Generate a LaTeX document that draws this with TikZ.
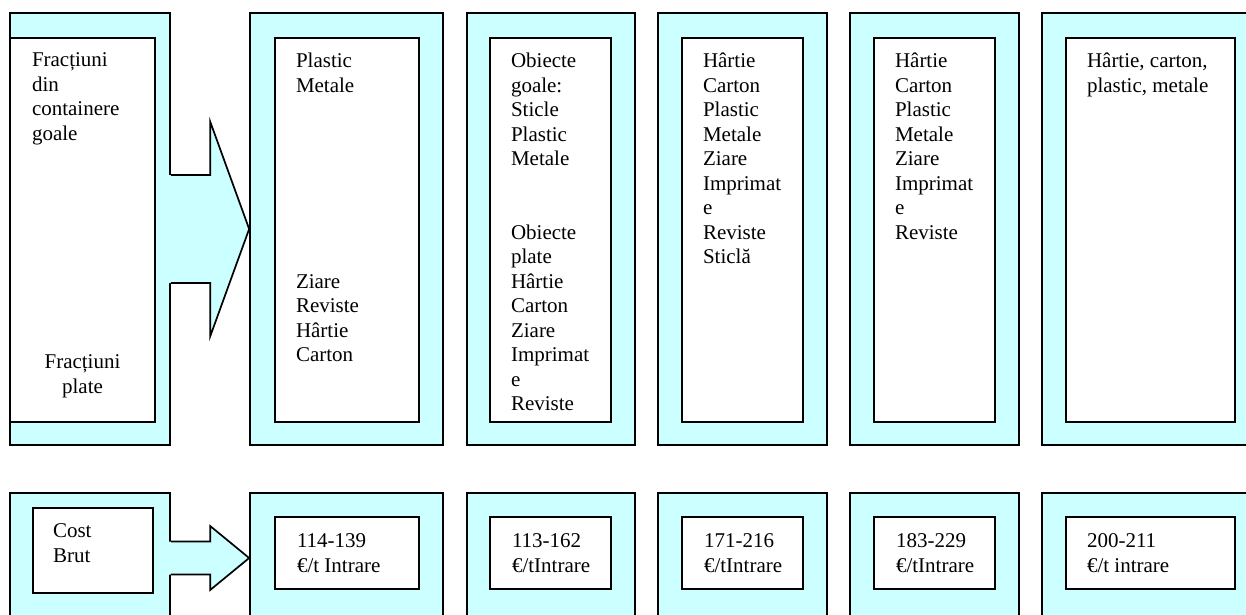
\documentclass[tikz,border=0pt]{standalone}
\usepackage{fontspec}
\setmainfont{Liberation Serif}
\usepackage{tikz}
\usetikzlibrary{positioning,calc}
\definecolor{lightcyan}{RGB}{204,255,255}

\begin{document}
\begin{tikzpicture}[x=1pt, y=-1pt, line width=1.7pt,
    outerbox/.style={draw, rectangle, fill=lightcyan, inner sep=0pt},
    innerbox/.style={draw, rectangle, fill=white, inner sep=0pt},
    boxtext/.style={inner sep=0pt, align=left, font=\fontsize{21pt}{24.5pt}\selectfont}]
    \useasboundingbox (0,0) rectangle (1246,614);
    \clip (0,0) rectangle (1246,614);

    % Upper row: outer frames
    \node[outerbox, minimum width=160pt, minimum height=432pt] (sys1) at (90,229) {};
    \node[outerbox, minimum width=193pt, minimum height=432pt] (sys2) at (346.5,229) {};
    \node[outerbox, minimum width=168pt, minimum height=432pt] (sys3) at (551,229) {};
    \node[outerbox, minimum width=169pt, minimum height=432pt] (sys4) at (742.5,229) {};
    \node[outerbox, minimum width=169pt, minimum height=432pt] (sys5) at (934.5,229) {};
    \node[outerbox, minimum width=217pt, minimum height=432pt] (sys6) at (1150.5,229) {};

    % Lower row: outer frames
    \node[outerbox, minimum width=160pt, minimum height=130pt] (cost1) at (90,558) {};
    \node[outerbox, minimum width=193pt, minimum height=130pt] (cost2) at (346.5,558) {};
    \node[outerbox, minimum width=168pt, minimum height=130pt] (cost3) at (551,558) {};
    \node[outerbox, minimum width=169pt, minimum height=130pt] (cost4) at (742.5,558) {};
    \node[outerbox, minimum width=169pt, minimum height=130pt] (cost5) at (934.5,558) {};
    \node[outerbox, minimum width=217pt, minimum height=130pt] (cost6) at (1150.5,558) {};

    % Block arrows
    \fill[lightcyan] ($(sys1.east)+(-2,-54)$) -- ($(sys2.west)+(-39,-54)$) -- ($(sys2.west)+(-39,-107.5)$) -- (sys2.west)
        -- ($(sys2.west)+(-39,107.5)$) -- ($(sys2.west)+(-39,54)$) -- ($(sys1.east)+(-2,54)$) -- cycle;
    \draw ($(sys1.east)+(0,-54)$) -- ($(sys2.west)+(-39,-54)$) -- ($(sys2.west)+(-39,-107.5)$) -- (sys2.west)
        -- ($(sys2.west)+(-39,107.5)$) -- ($(sys2.west)+(-39,54)$) -- ($(sys1.east)+(0,54)$);
    \fill[lightcyan] ($(cost1.east)+(-2,-16.5)$) -- ($(cost2.west)+(-39,-16.5)$) -- ($(cost2.west)+(-39,-32)$) -- (cost2.west)
        -- ($(cost2.west)+(-39,32)$) -- ($(cost2.west)+(-39,16.5)$) -- ($(cost1.east)+(-2,16.5)$) -- cycle;
    \draw ($(cost1.east)+(0,-16.5)$) -- ($(cost2.west)+(-39,-16.5)$) -- ($(cost2.west)+(-39,-32)$) -- (cost2.west)
        -- ($(cost2.west)+(-39,32)$) -- ($(cost2.west)+(-39,16.5)$) -- ($(cost1.east)+(0,16.5)$);

    % Upper row: inner boxes
    \node[innerbox, minimum width=145pt, minimum height=384pt] (list1) at (82.5,230) {};
    \node[innerbox, minimum width=144pt, minimum height=384pt] (list2) at (347,230) {};
    \node[innerbox, minimum width=121pt, minimum height=384pt] (list3) at (550.5,230) {};
    \node[innerbox, minimum width=121pt, minimum height=384pt] (list4) at (742.5,230) {};
    \node[innerbox, minimum width=121pt, minimum height=384pt] (list5) at (934.5,230) {};
    \node[innerbox, minimum width=169pt, minimum height=384pt] (list6) at (1150.5,230) {};

    % Lower row: inner boxes
    \node[innerbox, minimum width=120pt, minimum height=85pt] (val1) at (93,550.5) {};
    \node[innerbox, minimum width=144pt, minimum height=72pt] (val2) at (347,553) {};
    \node[innerbox, minimum width=121pt, minimum height=72pt] (val3) at (550.5,553) {};
    \node[innerbox, minimum width=121pt, minimum height=72pt] (val4) at (742.5,553) {};
    \node[innerbox, minimum width=121pt, minimum height=72pt] (val5) at (934.5,553) {};
    \node[innerbox, minimum width=169pt, minimum height=72pt] (val6) at (1150.5,553) {};

    % Texts of the upper row
    \node[boxtext, below right=15pt and 22pt of list1.north west] (frgoale) {Fracțiuni\\din\\containere\\goale};
    \node[boxtext, align=center, below=317pt of list1.north] (frplate) {Fracțiuni\\plate};
    \node[boxtext, below right=15pt and 21pt of list2.north west] (txt2) {Plastic\\Metale\\[7\baselineskip]Ziare\\Reviste\\Hârtie\\Carton};
    \node[boxtext, below right=15pt and 21pt of list3.north west] (txt3) {Obiecte\\goale:\\Sticle\\Plastic\\Metale\\[2\baselineskip]Obiecte\\plate\\Hârtie\\Carton\\Ziare\\Imprimat\\e\\Reviste};
    \node[boxtext, below right=15pt and 21pt of list4.north west] (txt4) {Hârtie\\Carton\\Plastic\\Metale\\Ziare\\Imprimat\\e\\Reviste\\Sticlă};
    \node[boxtext, below right=15pt and 21pt of list5.north west] (txt5) {Hârtie\\Carton\\Plastic\\Metale\\Ziare\\Imprimat\\e\\Reviste};
    \node[boxtext, below right=15pt and 21pt of list6.north west] (txt6) {Hârtie, carton,\\plastic, metale};

    % Texts of the lower row
    \node[boxtext, below right=16pt and 20pt of val1.north west] (brut) {Cost\\Brut};
    \node[boxtext, below right=17pt and 22pt of val2.north west] (pr2) {114-139\\€/t Intrare};
    \node[boxtext, below right=17pt and 22pt of val3.north west] (pr3) {113-162\\€/tIntrare};
    \node[boxtext, below right=17pt and 22pt of val4.north west] (pr4) {171-216\\€/tIntrare};
    \node[boxtext, below right=17pt and 22pt of val5.north west] (pr5) {183-229\\€/tIntrare};
    \node[boxtext, below right=17pt and 21pt of val6.north west] (pr6) {200-211\\€/t intrare};
\end{tikzpicture}
\end{document}
